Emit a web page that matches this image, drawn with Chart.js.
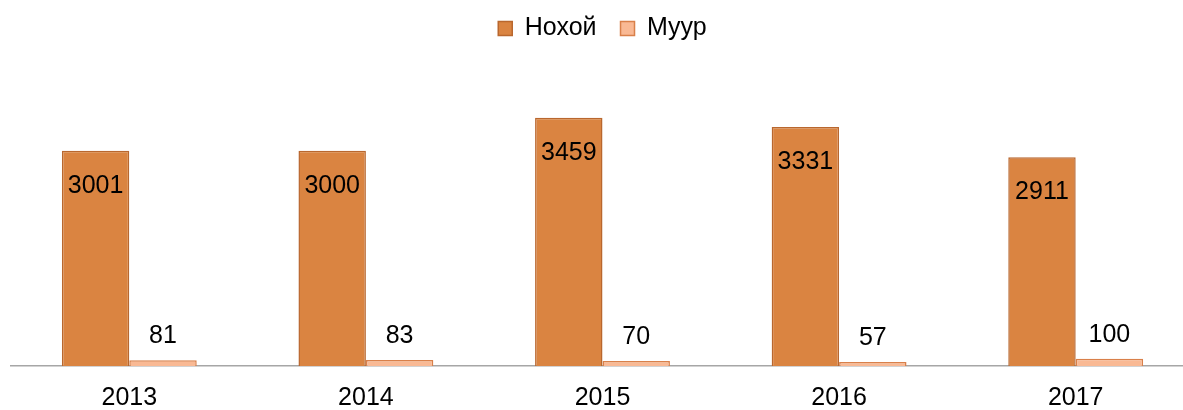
<!DOCTYPE html>
<html>
<head>
<meta charset="utf-8">
<script src="https://cdn.jsdelivr.net/npm/chart.js@4"></script>
<style>
  body { margin: 0; overflow: hidden; background: #fff; }
  #wrap { width: 1194px; height: 410px; }
</style>
</head>
<body>
<div id="wrap"><canvas id="barChart" width="1194" height="410"></canvas></div>
<script>
const years = ['2013', '2014', '2015', '2016', '2017']
const nokhoi = [3001, 3000, 3459, 3331, 2911]
const muur = [81, 83, 70, 57, 100]

const FONT = '"Liberation Sans", Arial, sans-serif'

// extra room under the legend
const legendSpace = {
  id: 'legendSpace',
  beforeInit (chart) {
    const fit = chart.legend.fit
    chart.legend.fit = function () {
      fit.bind(chart.legend)()
      this.height += 28
    }
  }
}

// value labels: inside the top for Нохой, above the bar for Муур
const valueLabels = {
  id: 'valueLabels',
  afterDatasetsDraw (chart) {
    const ctx = chart.ctx
    ctx.save()
    ctx.font = '25px ' + FONT
    ctx.fillStyle = '#000'
    ctx.textAlign = 'center'
    ctx.textBaseline = 'middle'
    chart.data.datasets.forEach((ds, i) => {
      chart.getDatasetMeta(i).data.forEach((bar, j) => {
        const y = i === 0 ? bar.y + 35 : bar.y - 24
        ctx.fillText(ds.data[j], bar.x, y)
      })
    })
    ctx.restore()
  }
}

new Chart(document.getElementById('barChart'), {
  type: 'bar',
  data: {
    labels: years,
    datasets: [
      {
        label: 'Нохой',
        data: nokhoi,
        backgroundColor: '#DA8441',
        borderColor: '#B9672E',
        borderWidth: 1.5
      },
      {
        label: 'Муур',
        data: muur,
        backgroundColor: '#F9B994',
        borderColor: '#D9804A',
        borderWidth: 1.5
      }
    ]
  },
  options: {
    responsive: false,
    animation: false,
    layout: { padding: { left: 11, right: 0, top: -8, bottom: -21 } },
    datasets: {
      bar: { categoryPercentage: 0.57, barPercentage: 1 }
    },
    plugins: {
      legend: {
        position: 'top',
        labels: {
          font: { family: FONT, size: 25 },
          color: '#000',
          boxWidth: 14,
          boxHeight: 14,
          padding: 24
        }
      },
      tooltip: { enabled: false }
    },
    scales: {
      x: {
        grid: { display: false, drawTicks: false },
        border: { display: true, color: '#A6A6A6', width: 1.5 },
        ticks: {
          font: { family: FONT, size: 25, lineHeight: 1 },
          color: '#000',
          padding: 20
        }
      },
      y: {
        display: false,
        min: 0,
        max: 4000
      }
    }
  },
  plugins: [legendSpace, valueLabels]
})
</script>
</body>
</html>
